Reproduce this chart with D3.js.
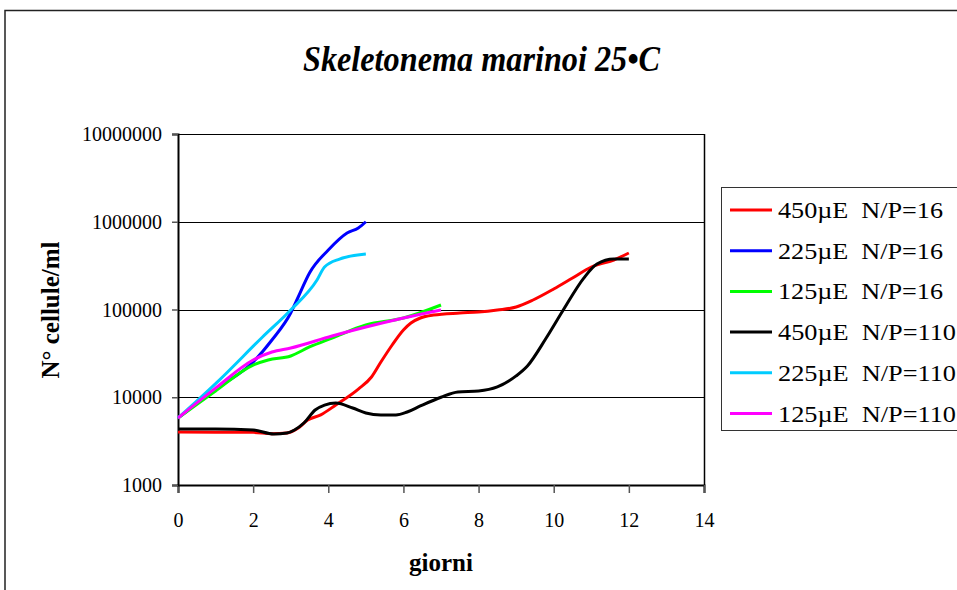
<!DOCTYPE html>
<html>
<head>
<meta charset="utf-8">
<script src="https://cdn.jsdelivr.net/npm/d3@7"></script>
<style>
  body { margin: 0; background: #fff; }
</style>
</head>
<body>
<div id="chart"></div>
<script>
// ---------------------------------------------------------------
// data (giorni, cellule/ml)
// ---------------------------------------------------------------
var seriesNames = ["450µE  N/P=16", "225µE  N/P=16", "125µE  N/P=16",
                   "450µE  N/P=110", "225µE  N/P=110", "125µE  N/P=110"];
var seriesColors = ["#ff0000", "#0000ff", "#00ff00", "#000000", "#00ccff", "#ff00ff"];

var red16 = [[0, 4020], [1, 4000], [2, 3980], [2.5, 3830], [2.9, 3910], [3.2, 4460],
  [3.45, 5500], [3.8, 6300], [4.2, 8160], [4.8, 12400], [5.15, 17000], [5.4, 25200],
  [5.7, 39400], [6, 58400], [6.2, 70200], [6.45, 80000], [6.8, 86500], [7.5, 91200],
  [8, 93600], [8.5, 98700], [9, 106700], [9.45, 128300], [10, 171300], [10.5, 228600],
  [11, 305000], [11.6, 366600], [12, 440500]];
var blue16 = [[0, 5800], [1, 12300], [2, 25200], [2.5, 44900], [3, 91200], [3.2, 138800],
  [3.5, 260600], [4, 476000], [4.5, 744000], [4.8, 849000], [5, 1000000]];
var green16 = [[0, 5800], [1, 11800], [2, 23300], [2.4, 26600], [3, 29500], [3.5, 37400],
  [4.1, 47300], [5, 66600], [6, 80000], [7, 112600]];
var black110 = [[0, 4350], [1, 4350], [2, 4240], [2.55, 3810], [2.9, 3910], [3.1, 4240],
  [3.35, 5090], [3.65, 7160], [3.9, 8150], [4.2, 8600], [4.65, 7540], [5, 6610],
  [5.4, 6280], [5.8, 6280], [6.1, 6790], [6.45, 7950], [7, 10000], [7.45, 11500],
  [8, 11780], [8.5, 13100], [9, 17500], [9.3, 22700], [9.8, 47300], [10.25, 98000],
  [10.8, 228000], [11.15, 330000], [11.6, 376000], [12, 376000]];
var cyan110 = [[0, 5800], [1.1, 15700], [2.25, 48600], [3, 98700], [3.7, 217000],
  [3.9, 305000], [4.3, 376000], [5, 429000]];
var magenta110 = [[0, 5800], [1, 12700], [2, 26600], [2.5, 32800], [3, 36400],
  [4.1, 49900], [5, 63100], [6, 80000], [7, 98700]];

var allSeries = [red16, blue16, green16, black110, cyan110, magenta110];
var xTicks = [0, 2, 4, 6, 8, 10, 12, 14];
var yTicks = [1000, 10000, 100000, 1000000, 10000000];

var serif = "Liberation Serif";

// ---------------------------------------------------------------
// layout
// ---------------------------------------------------------------
var svgWidth = 957, svgHeight = 590;
var plot = { left: 178, top: 134, right: 704, bottom: 485 };

var svg = d3.select("#chart").append("svg")
  .attr("width", svgWidth)
  .attr("height", svgHeight);

// outer chart border
svg.append("path")
  .attr("d", "M5,590 V10.5 H957")
  .attr("fill", "none")
  .attr("stroke", "#222")
  .attr("stroke-width", 1.5);

var x = d3.scaleLinear().domain([0, 14]).range([plot.left, plot.right]);
var y = d3.scaleLog().domain([1000, 10000000]).range([plot.bottom, plot.top]);

// gridlines
svg.append("g")
  .selectAll("line")
  .data(yTicks.slice(1))
  .join("line")
  .attr("x1", plot.left).attr("x2", plot.right)
  .attr("y1", d => Math.round(y(d)) + 0.5).attr("y2", d => Math.round(y(d)) + 0.5)
  .attr("stroke", "#000").attr("stroke-width", 1);

// right border of plot
svg.append("line")
  .attr("x1", plot.right + 0.5).attr("x2", plot.right + 0.5)
  .attr("y1", plot.top).attr("y2", plot.bottom)
  .attr("stroke", "#000").attr("stroke-width", 1.5);

// axes
var bottomAxis = d3.axisBottom(x).tickValues(xTicks).tickSize(8).tickPadding(20)
  .tickFormat(d3.format("d"));
var leftAxis = d3.axisLeft(y).tickValues(yTicks).tickSize(6).tickPadding(10)
  .tickFormat(d3.format("d"));

var gx = svg.append("g")
  .attr("transform", `translate(0, ${plot.bottom})`)
  .call(bottomAxis);
var gy = svg.append("g")
  .attr("transform", `translate(${plot.left}, 0)`)
  .call(leftAxis);

[gx, gy].forEach(g => {
  g.select(".domain").attr("stroke", "#000").attr("stroke-width", 2);
  g.selectAll(".tick line").attr("stroke", "#555").attr("stroke-width", 1.5);
  g.selectAll(".tick text")
    .attr("fill", "#000")
    .style("font-family", serif)
    .style("font-size", "20px");
});
gy.selectAll(".tick text").attr("dy", "0.33em");

// lines
var line = d3.line()
  .x(d => x(d[0]))
  .y(d => y(d[1]))
  .curve(d3.curveMonotoneX);

svg.append("g")
  .selectAll("path")
  .data(allSeries)
  .join("path")
  .attr("d", line)
  .attr("fill", "none")
  .attr("stroke", (d, i) => seriesColors[i])
  .attr("stroke-width", 3)
  .attr("stroke-linejoin", "round");

// title
svg.append("text")
  .attr("x", 303)
  .attr("y", 71)
  .attr("textLength", 357)
  .attr("lengthAdjust", "spacingAndGlyphs")
  .style("font-family", serif)
  .style("font-size", "35px")
  .style("font-weight", "bold")
  .style("font-style", "italic")
  .text("Skeletonema marinoi 25•C");

// axis titles
svg.append("text")
  .attr("x", 441)
  .attr("y", 571)
  .attr("text-anchor", "middle")
  .style("font-family", serif)
  .style("font-size", "25px")
  .style("font-weight", "bold")
  .text("giorni");

svg.append("text")
  .attr("transform", "translate(59, 310) rotate(-90)")
  .attr("text-anchor", "middle")
  .style("font-family", serif)
  .style("font-size", "25px")
  .style("font-weight", "bold")
  .text("N° cellule/ml");

// legend
var legend = svg.append("g");
legend.append("rect")
  .attr("x", 721.5).attr("y", 187.5)
  .attr("width", 250).attr("height", 243)
  .attr("fill", "#fff")
  .attr("stroke", "#333").attr("stroke-width", 1);

var items = legend.selectAll("g.item")
  .data(seriesNames)
  .join("g")
  .attr("class", "item")
  .attr("transform", (d, i) => `translate(0, ${210 + i * 40.7})`);

items.append("line")
  .attr("x1", 730).attr("x2", 772)
  .attr("stroke", (d, i) => seriesColors[i])
  .attr("stroke-width", 3);

items.append("text")
  .attr("x", 778)
  .attr("dy", "0.35em")
  .attr("textLength", (d, i) => i < 3 ? 165 : 178)
  .attr("lengthAdjust", "spacingAndGlyphs")
  .style("font-family", serif)
  .style("font-size", "23px")
  .style("white-space", "pre")
  .text(d => d);
</script>
</body>
</html>
